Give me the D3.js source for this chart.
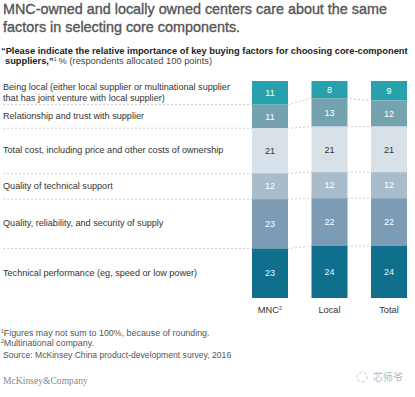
<!DOCTYPE html>
<html lang="en">
<head>
<meta charset="UTF-8">
<script src="https://d3js.org/d3.v7.min.js"></script>
<title>Key buying factors</title>
<style>
  body { margin: 0; background: #fff; }
  svg { display: block; font-family: "Liberation Sans", Arial, Helvetica, sans-serif; }
</style>
</head>
<body>
<div id="chart"></div>
<script>
const groups = ["MNC", "Local", "Total"];
const groupSup = ["2", "", ""];
const titleLines = ["MNC-owned and locally owned centers care about the same", "factors in selecting core components."];
const factorLines = [
    ["Being local (either local supplier or multinational supplier", "that has joint venture with local supplier)"],
    ["Relationship and trust with supplier"],
    ["Total cost, including price and other costs of ownership"],
    ["Quality of technical support"],
    ["Quality, reliability, and security of supply"],
    ["Technical performance (eg, speed or low power)"]
];
const mncValues = [11, 11, 21, 12, 23, 23];
const localValues = [8, 13, 21, 12, 22, 24];
const totalValues = [9, 12, 21, 12, 22, 24];
const colors = ["#27a2ac", "#74a3af", "#d8e1e8", "#a8bccb", "#7b9cb4", "#0f6f8c"];
const textColors = ["#fff", "#fff", "#333", "#fff", "#fff", "#e8f4f8"];

const width = 415, height = 397;
const svg = d3.select("#chart").append("svg")
    .attr("width", width)
    .attr("height", height);

// title: size it so the first line spans the same width as the reference
const t1 = svg.append("text")
    .attr("x", 3).attr("y", 14)
    .attr("fill", "#555")
    .attr("stroke", "#555")
    .attr("stroke-width", 0.35)
    .attr("font-size", "15px")
    .text(titleLines[0]);
const fs = 15 * 384 / t1.node().getComputedTextLength();
t1.attr("font-size", fs + "px");
svg.append("text")
    .attr("x", 3).attr("y", 32)
    .attr("fill", "#555")
    .attr("stroke", "#555")
    .attr("stroke-width", 0.35)
    .attr("font-size", fs + "px")
    .text(titleLines[1]);

const sub = svg.append("text")
    .attr("fill", "#222")
    .attr("font-size", "9.3px");
sub.append("tspan").attr("x", 1).attr("y", 54).attr("font-weight", "bold")
    .text("\u201CPlease indicate the relative importance of key buying factors for choosing core-component");
const sub2 = sub.append("tspan").attr("x", 5).attr("y", 64);
sub2.append("tspan").attr("font-weight", "bold").text("suppliers,\u201D");
sub2.append("tspan").attr("font-size", "6px").attr("dy", -3).attr("fill", "#555").text("1 ");
sub2.append("tspan").attr("dy", 3).attr("fill", "#444").text("% (respondents allocated 100 points)");

// stacked data, each column normalised to the same height
const keys = factorLines.map((d, i) => i);
const table = groups.map((g, gi) => {
    const vals = [mncValues, localValues, totalValues][gi];
    const row = { group: g };
    keys.forEach(k => row[k] = vals[k]);
    return row;
});
const series = d3.stack().keys(keys).offset(d3.stackOffsetExpand)(table);

const x = d3.scaleBand().domain(groups).range([252, 407]).paddingInner(0.395);
const y = d3.scaleLinear().domain([0, 1]).range([81, 298]);

// dashed connector lines at segment boundaries
const lineGen = d3.line();
for (let i = 1; i < keys.length; i++) {
    const pts = [[3, y(series[i][0][0])]];
    groups.forEach((g, gi) => {
        const yy = y(series[i][gi][0]);
        pts.push([x(g), yy]);
        if (gi < groups.length - 1) pts.push([x(g) + x.bandwidth(), yy]);
    });
    svg.append("path")
        .attr("d", lineGen(pts))
        .attr("fill", "none")
        .attr("stroke", "#c4c4c4")
        .attr("stroke-width", 0.8)
        .attr("stroke-dasharray", "2,2");
}

// bars
const layer = svg.selectAll(".layer")
    .data(series)
    .enter().append("g")
    .attr("class", "layer");

layer.selectAll("rect")
    .data(d => d.map(s => ({ s, key: d.key })))
    .enter().append("rect")
    .attr("x", d => x(d.s.data.group))
    .attr("y", d => y(d.s[0]))
    .attr("width", x.bandwidth())
    .attr("height", d => y(d.s[1]) - y(d.s[0]))
    .attr("fill", d => colors[d.key]);

layer.selectAll("text")
    .data(d => d.map(s => ({ s, key: d.key })))
    .enter().append("text")
    .attr("x", d => x(d.s.data.group) + x.bandwidth() / 2)
    .attr("y", d => (y(d.s[0]) + y(d.s[1])) / 2 + 3.2)
    .attr("text-anchor", "middle")
    .attr("font-size", "9px")
    .attr("fill", d => textColors[d.key])
    .text(d => d.s.data[d.key]);

// row labels, centred on the MNC segment
factorLines.forEach((lines, i) => {
    const mid = (y(series[i][0][0]) + y(series[i][0][1])) / 2;
    const t = svg.append("text")
        .attr("font-size", "9.1px")
        .attr("fill", "#333");
    lines.forEach((l, li) => {
        t.append("tspan")
            .attr("x", 3)
            .attr("y", mid + 2.5 + (li - (lines.length - 1) / 2) * 10.5)
            .text(l);
    });
});

// column labels
groups.forEach((g, gi) => {
    const t = svg.append("text")
        .attr("x", x(g) + x.bandwidth() / 2)
        .attr("y", 313)
        .attr("text-anchor", "middle")
        .attr("font-size", "9.3px")
        .attr("fill", "#333");
    t.append("tspan").text(g);
    if (groupSup[gi]) t.append("tspan").attr("font-size", "5.5px").attr("dy", -3).text(groupSup[gi]);
});

// footnotes
const notes = [["1", "Figures may not sum to 100%, because of rounding."], ["2", "Multinational company."]];
notes.forEach((n, i) => {
    const t = svg.append("text")
        .attr("x", 1)
        .attr("y", 336 + i * 10)
        .attr("font-size", "8.9px")
        .attr("fill", "#555");
    t.append("tspan").attr("font-size", "5px").attr("dy", -3).text(n[0]);
    t.append("tspan").attr("dy", 3).text(n[1]);
});
svg.append("text")
    .attr("x", 3).attr("y", 358)
    .attr("font-size", "8.6px")
    .attr("fill", "#555")
    .text("Source: McKinsey China product-development survey, 2016");

svg.append("text")
    .attr("x", 3).attr("y", 384)
    .attr("font-family", "'Liberation Serif', 'DejaVu Serif', serif")
    .attr("font-size", "9.6px")
    .attr("fill", "#8a8a8a")
    .text("McKinsey&Company");

// watermark
svg.append("circle").attr("cx", 362).attr("cy", 377).attr("r", 5)
    .attr("fill", "none").attr("stroke", "#c8c8c8").attr("stroke-width", 1).attr("stroke-dasharray", "3,2");
svg.append("text")
    .attr("x", 373).attr("y", 381)
    .attr("font-family", "'Noto Sans CJK SC', sans-serif")
    .attr("font-size", "10px")
    .attr("fill", "#b5b5b5")
    .text("芯师爷");
</script>
</body>
</html>
